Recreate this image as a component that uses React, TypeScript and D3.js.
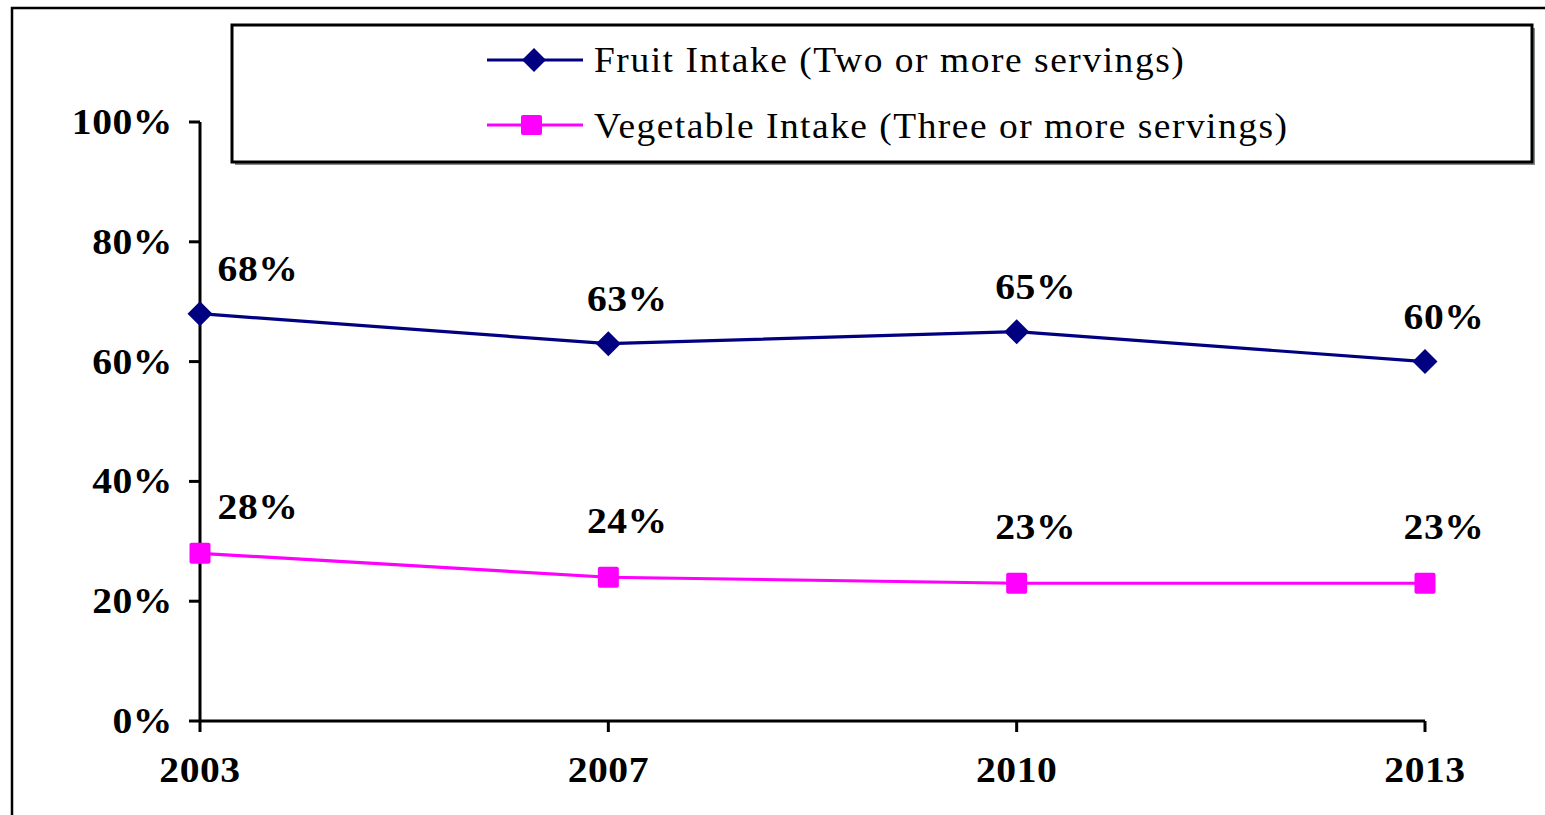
import * as d3 from "d3";

const years = ["2003", "2007", "2010", "2013"];
const fruitValues = [68, 63, 65, 60];
const vegetableValues = [28, 24, 23, 23];
const yTicks = [0, 20, 40, 60, 80, 100];
const fruitLabel = "Fruit Intake (Two or more servings)";
const vegLabel = "Vegetable Intake (Three or more servings)";

const W = 1545;
const H = 815;
const FONT = "'Liberation Serif', 'Times New Roman', serif";
const NAVY = "#000080";
const MAGENTA = "#ff00ff";

export default function App() {
  const x = d3.scalePoint<string>().domain(years).range([200, 1425]);
  const y = d3.scaleLinear().domain([0, 100]).range([721, 122]);

  const line = d3
    .line<number>()
    .x((_, i) => x(years[i]) ?? 0)
    .y((d) => y(d));

  const diamond = (cx: number, cy: number, r: number) =>
    `M${cx},${cy - r}L${cx + r},${cy}L${cx},${cy + r}L${cx - r},${cy}Z`;

  // Excel-ish label placement: first label pushed right of the axis
  const labelX = (i: number) => (x(years[i]) ?? 0) + (i === 0 ? 58 : 19);

  const boldText = (tx: number, ty: number, s: string, anchor: string) => (
    <text
      transform={`translate(${tx},${ty}) scale(1.1,1)`}
      textAnchor={anchor}
      fontFamily={FONT}
      fontWeight="bold"
      fontSize={36}
      letterSpacing={0.5}
      fill="#000"
    >
      {s}
    </text>
  );

  return (
    <svg
      width={W}
      height={H}
      style={{ position: "absolute", left: 0, top: 0, background: "#fff" }}
    >
      {/* outer frame */}
      <rect x={12} y={8} width={W} height={H} fill="#fff" stroke="#000" strokeWidth={2.5} />

      {/* legend */}
      <rect x={235} y={28} width={1300} height={137} fill="#888" />
      <rect x={232} y={25} width={1300} height={137} fill="#fff" stroke="#000" strokeWidth={3} />
      <line x1={487} x2={583} y1={60} y2={60} stroke={NAVY} strokeWidth={3} />
      <path d={diamond(534, 60, 12)} fill={NAVY} />
      <text
        transform="translate(594,72) scale(1.07,1)"
        fontFamily={FONT}
        fontSize={35}
        letterSpacing={1.45}
        fill="#000"
      >
        {fruitLabel}
      </text>
      <line x1={487} x2={583} y1={125} y2={125} stroke={MAGENTA} strokeWidth={3} />
      <rect x={521} y={115} width={21} height={20} rx={2} fill={MAGENTA} />
      <text
        transform="translate(594,138) scale(1.07,1)"
        fontFamily={FONT}
        fontSize={35}
        letterSpacing={1.4}
        fill="#000"
      >
        {vegLabel}
      </text>

      {/* axes */}
      <line x1={200} x2={200} y1={y(100)} y2={y(0)} stroke="#000" strokeWidth={3} />
      {yTicks.map((t) => (
        <g key={t}>
          <line x1={189} x2={200} y1={y(t)} y2={y(t)} stroke="#000" strokeWidth={3} />
          {boldText(173, y(t) + 12, `${t}%`, "end")}
        </g>
      ))}
      <line x1={200} x2={1425} y1={y(0)} y2={y(0)} stroke="#000" strokeWidth={3} />
      {years.map((yr) => (
        <g key={yr}>
          <line x1={x(yr)} x2={x(yr)} y1={y(0)} y2={y(0) + 11} stroke="#000" strokeWidth={3} />
          {boldText(x(yr) ?? 0, 782, yr, "middle")}
        </g>
      ))}

      {/* fruit series */}
      <path d={line(fruitValues) ?? ""} fill="none" stroke={NAVY} strokeWidth={3.2} />
      {fruitValues.map((v, i) => (
        <g key={`f${i}`}>
          <path d={diamond(x(years[i]) ?? 0, y(v), 12.5)} fill={NAVY} />
          {boldText(labelX(i), y(v) - 33, `${v}%`, "middle")}
        </g>
      ))}

      {/* vegetable series */}
      <path d={line(vegetableValues) ?? ""} fill="none" stroke={MAGENTA} strokeWidth={3.2} />
      {vegetableValues.map((v, i) => (
        <g key={`v${i}`}>
          <rect
            x={(x(years[i]) ?? 0) - 10.5}
            y={y(v) - 10.5}
            width={21}
            height={21}
            rx={2}
            fill={MAGENTA}
          />
          {boldText(labelX(i), y(v) - (i === 0 ? 34 : 44), `${v}%`, "middle")}
        </g>
      ))}
    </svg>
  );
}
